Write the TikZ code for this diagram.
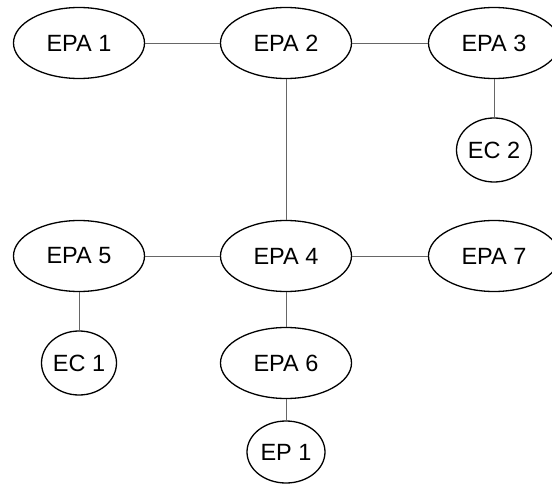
\documentclass[tikz,border=0pt]{standalone}
\usepackage{fontspec}
\setmainfont{Liberation Sans}
\usetikzlibrary{shapes.geometric}
\begin{document}
\begin{tikzpicture}[x=1pt,y=-1pt,
  bignode/.style={ellipse, draw=black, line width=1.3pt, minimum width=131pt,
    minimum height=71pt, inner sep=0pt, font=\fontsize{23.5}{28}\selectfont},
  smallnode/.style={ellipse, draw=black, line width=1.3pt, minimum width=75pt,
    minimum height=64pt, inner sep=0pt, font=\fontsize{23.5}{28}\selectfont},
  link/.style={draw=black!60, line width=0.9pt}]
\useasboundingbox (0,0) rectangle (552,484);
\clip (0,0) rectangle (552,484);

% top row
\node[bignode] (e1) at (79,43) {EPA 1};
\node[bignode] (e2) at (286,43) {EPA 2};
\node[bignode] (e3) at (494,43) {EPA 3};
\node[smallnode] (ec2) at (494,150) {EC 2};

% middle row
\node[bignode] (e5) at (79,256) {EPA 5};
\node[bignode] (e4) at (286,256) {EPA 4};
\node[bignode] (e7) at (494,256) {EPA 7};

% lower rows
\node[smallnode] (ec1) at (79,363) {EC 1};
\node[bignode] (e6) at (286,363) {EPA 6};
\node[smallnode, minimum width=78pt, minimum height=62pt] (ep1) at (286,452) {EP 1};

% connectors
\draw[link] (e1) -- (e2);
\draw[link] (e2) -- (e3);
\draw[link] (e3) -- (ec2);
\draw[link] (e2) -- (e4);
\draw[link] (e5) -- (e4);
\draw[link] (e4) -- (e7);
\draw[link] (e5) -- (ec1);
\draw[link] (e4) -- (e6);
\draw[link] (e6) -- (ep1);
\end{tikzpicture}
\end{document}
